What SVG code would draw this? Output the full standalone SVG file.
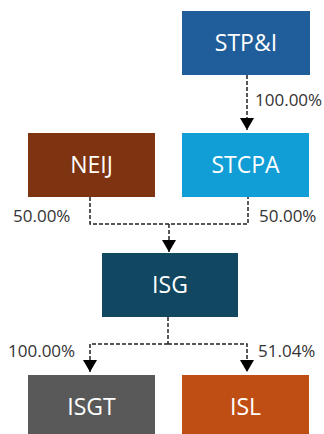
<svg xmlns="http://www.w3.org/2000/svg" width="324" height="434" viewBox="0 0 324 434">
<style>
.box text{font-family:"Open Sans","Noto Sans",sans-serif;font-size:23px;fill:#ffffff;text-anchor:middle}
.lbl{font-family:"Open Sans","Noto Sans",sans-serif;font-size:17px;fill:#333333}
.ln{fill:none;stroke:#222222;stroke-width:1.5;stroke-dasharray:4 2}
</style>
<defs>
<marker id="ah" viewBox="0 0 12 14" refX="12" refY="7" markerWidth="12" markerHeight="14" markerUnits="userSpaceOnUse" orient="auto">
<path d="M0,0 L12,7 L0,14 Z" fill="#000000"/>
</marker>
</defs>
<rect width="324" height="434" fill="#ffffff"/>
<g id="STPI" class="box"><rect x="182" y="11" width="128" height="64" fill="#1F5E9A"/><text x="246" y="51">STP&amp;I</text></g>
<g id="NEIJ" class="box"><rect x="28" y="133" width="127" height="64" fill="#7E3411"/><text x="91.5" y="173">NEIJ</text></g>
<g id="STCPA" class="box"><rect x="182" y="133" width="127" height="64" fill="#119ED6"/><text x="245.5" y="173">STCPA</text></g>
<g id="ISG" class="box"><rect x="102" y="253" width="136" height="64" fill="#124761"/><text x="170" y="293">ISG</text></g>
<g id="ISGT" class="box"><rect x="28" y="375" width="127" height="64" fill="#595959"/><text x="91.5" y="415">ISGT</text></g>
<g id="ISL" class="box"><rect x="182" y="375" width="127" height="64" fill="#BF4E15"/><text x="245.5" y="415">ISL</text></g>
<g id="connectors">
<path class="ln" d="M247,75 V130" marker-end="url(#ah)"/>
<path class="ln" d="M90,197 V224 H248 V197"/>
<path class="ln" d="M169,224 V252" marker-end="url(#ah)"/>
<path class="ln" d="M168,317 V344"/>
<path class="ln" d="M168,344 H90 V372" marker-end="url(#ah)"/>
<path class="ln" d="M168,344 H247 V372" marker-end="url(#ah)"/>
</g>
<g id="labels">
<text class="lbl" x="255" y="106">100.00%</text>
<text class="lbl" x="13" y="222">50.00%</text>
<text class="lbl" x="259" y="222">50.00%</text>
<text class="lbl" x="8" y="357">100.00%</text>
<text class="lbl" x="258" y="357">51.04%</text>
</g>
</svg>
